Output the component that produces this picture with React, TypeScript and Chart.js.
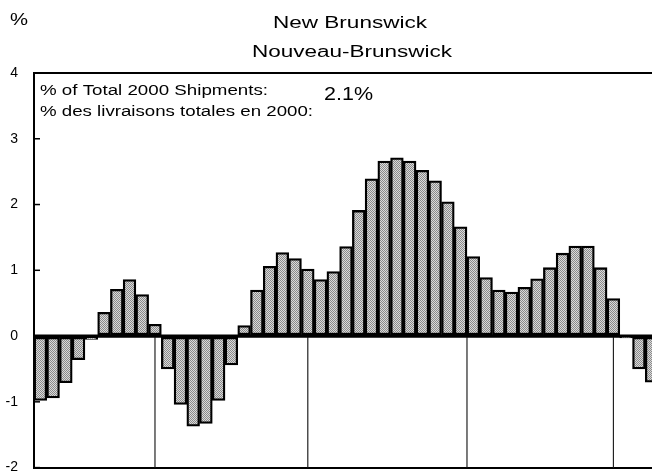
import React, { useEffect, useRef } from 'react';
import { Chart, registerables } from 'chart.js';

Chart.register(...registerables);

// ---------- data ----------
const categories = [
  '1', '2', '3', '4', '5', '6', '7', '8', '9', '10',
  '11', '12', '13', '14', '15', '16', '17', '18', '19', '20',
  '21', '22', '23', '24', '25', '26', '27', '28', '29', '30',
  '31', '32', '33', '34', '35', '36', '37', '38', '39', '40',
  '41', '42', '43', '44', '45', '46', '47', '48', '49',
];

const shipmentChange = [
  -0.98, -0.94, -0.71, -0.36, -0.05, 0.36, 0.71, 0.86, 0.63, 0.18,
  -0.5, -1.04, -1.37, -1.33, -0.98, -0.44, 0.16, 0.7, 1.06, 1.27,
  1.18, 1.02, 0.86, 0.98, 1.36, 1.91, 2.39, 2.66, 2.71, 2.66,
  2.52, 2.36, 2.04, 1.66, 1.21, 0.89, 0.7, 0.67, 0.74, 0.87,
  1.04, 1.26, 1.37, 1.37, 1.04, 0.57, -0.03, -0.5, -0.7,
];

const yMin = -2;
const yMax = 4;
const yStep = 1;

const separatorIndices = [9, 21, 33.5, 45];

const unitLabel = '%';
const titleLines = ['New Brunswick', 'Nouveau-Brunswick'];
const shareLabels = ['% of Total 2000 Shipments:', '% des livraisons totales en 2000:'];
const shareValue = '2.1%';

// ---------- styling ----------
const FONT = '"Liberation Sans", Arial, Helvetica, sans-serif';

type TextItem = {
  text: string;
  x: number;
  y: number;
  size: number;
  width: number;
  align: CanvasTextAlign;
};

const textItems: TextItem[] = [
  { text: unitLabel, x: 10, y: 25, size: 16, width: 18, align: 'left' },
  { text: titleLines[0], x: 350, y: 28, size: 16, width: 154, align: 'center' },
  { text: titleLines[1], x: 352, y: 57, size: 16, width: 200, align: 'center' },
  { text: shareLabels[0], x: 40, y: 95, size: 14, width: 228, align: 'left' },
  { text: shareLabels[1], x: 40, y: 116, size: 14, width: 273, align: 'left' },
  { text: shareValue, x: 324, y: 100, size: 18, width: 49, align: 'left' },
];

function makePattern(): CanvasPattern | string {
  const c = document.createElement('canvas');
  c.width = 2;
  c.height = 2;
  const g = c.getContext('2d');
  if (!g) return '#b4b4b4';
  g.fillStyle = '#dadada';
  g.fillRect(0, 0, 2, 2);
  g.fillStyle = '#8a8a8a';
  g.fillRect(0, 0, 1, 1);
  g.fillRect(1, 1, 1, 1);
  const p = g.createPattern(c, 'repeat');
  return p || '#b4b4b4';
}

const decorPlugin = {
  id: 'decor',
  afterDatasetsDraw(chart: any) {
    const ctx: CanvasRenderingContext2D = chart.ctx;
    const area = chart.chartArea;
    const x = chart.scales.x;
    const y = chart.scales.y;
    const zeroY = y.getPixelForValue(0);

    ctx.save();
    // separators below zero
    ctx.strokeStyle = '#222';
    ctx.lineWidth = 1.2;
    separatorIndices.forEach((i) => {
      const px = x.getPixelForValue(i);
      ctx.beginPath();
      ctx.moveTo(px, zeroY);
      ctx.lineTo(px, area.bottom);
      ctx.stroke();
    });

    // zero baseline
    ctx.strokeStyle = '#000';
    ctx.lineWidth = 3;
    ctx.beginPath();
    ctx.moveTo(area.left, zeroY);
    ctx.lineTo(area.right, zeroY);
    ctx.stroke();

    // inward tick marks
    ctx.lineWidth = 1.5;
    y.ticks.forEach((t: any) => {
      const py = y.getPixelForValue(t.value);
      ctx.beginPath();
      ctx.moveTo(area.left, py);
      ctx.lineTo(area.left + 6, py);
      ctx.stroke();
    });
    ctx.restore();
  },
  afterDraw(chart: any) {
    const ctx: CanvasRenderingContext2D = chart.ctx;
    textItems.forEach((it) => {
      ctx.save();
      ctx.font = `${it.size}px ${FONT}`;
      ctx.fillStyle = '#000';
      ctx.textBaseline = 'alphabetic';
      ctx.textAlign = it.align;
      const w = ctx.measureText(it.text).width || 1;
      ctx.translate(it.x, it.y);
      ctx.scale(it.width / w, 1);
      ctx.fillText(it.text, 0, 0);
      ctx.restore();
    });
  },
};

export default function App() {
  const canvasRef = useRef<HTMLCanvasElement | null>(null);

  useEffect(() => {
    const canvas = canvasRef.current;
    if (!canvas) return;
    const pattern = makePattern();
    const chart = new Chart(canvas, {
      type: 'bar',
      data: {
        labels: categories,
        datasets: [
          {
            data: shipmentChange,
            backgroundColor: pattern as any,
            borderColor: '#000',
            borderWidth: 2.3,
            borderSkipped: false,
            barPercentage: 1,
            categoryPercentage: 1,
          },
        ],
      },
      options: {
        responsive: false,
        animation: false,
        devicePixelRatio: 1,
        layout: { padding: { left: 0, right: 12, top: 73, bottom: 24 } },
        plugins: {
          legend: { display: false },
          title: { display: false },
          tooltip: { enabled: false },
        },
        scales: {
          x: {
            type: 'category',
            display: false,
            offset: true,
          },
          y: {
            min: yMin,
            max: yMax,
            afterFit: (scale: any) => {
              scale.width = 34;
            },
            ticks: {
              stepSize: yStep,
              color: '#000',
              padding: 16,
              font: { family: FONT, size: 14 },
            },
            border: { display: true, color: '#000', width: 2 },
            grid: {
              drawTicks: false,
              color: '#000',
              lineWidth: (c: any) => {
                const v = c.tick ? c.tick.value : null;
                if (v === yMax || v === yMin) return 2;
                if (v === 0) return 2.5;
                return 0;
              },
            },
          },
        },
      },
      plugins: [decorPlugin],
    });
    return () => chart.destroy();
  }, []);

  return (
    <div
      style={{
        position: 'fixed',
        left: 0,
        top: 0,
        width: 652,
        height: 471,
        overflow: 'hidden',
        background: '#fff',
      }}
    >
      <canvas
        ref={canvasRef}
        width={670}
        height={492}
        style={{ width: 670, height: 492, display: 'block' }}
      />
    </div>
  );
}
